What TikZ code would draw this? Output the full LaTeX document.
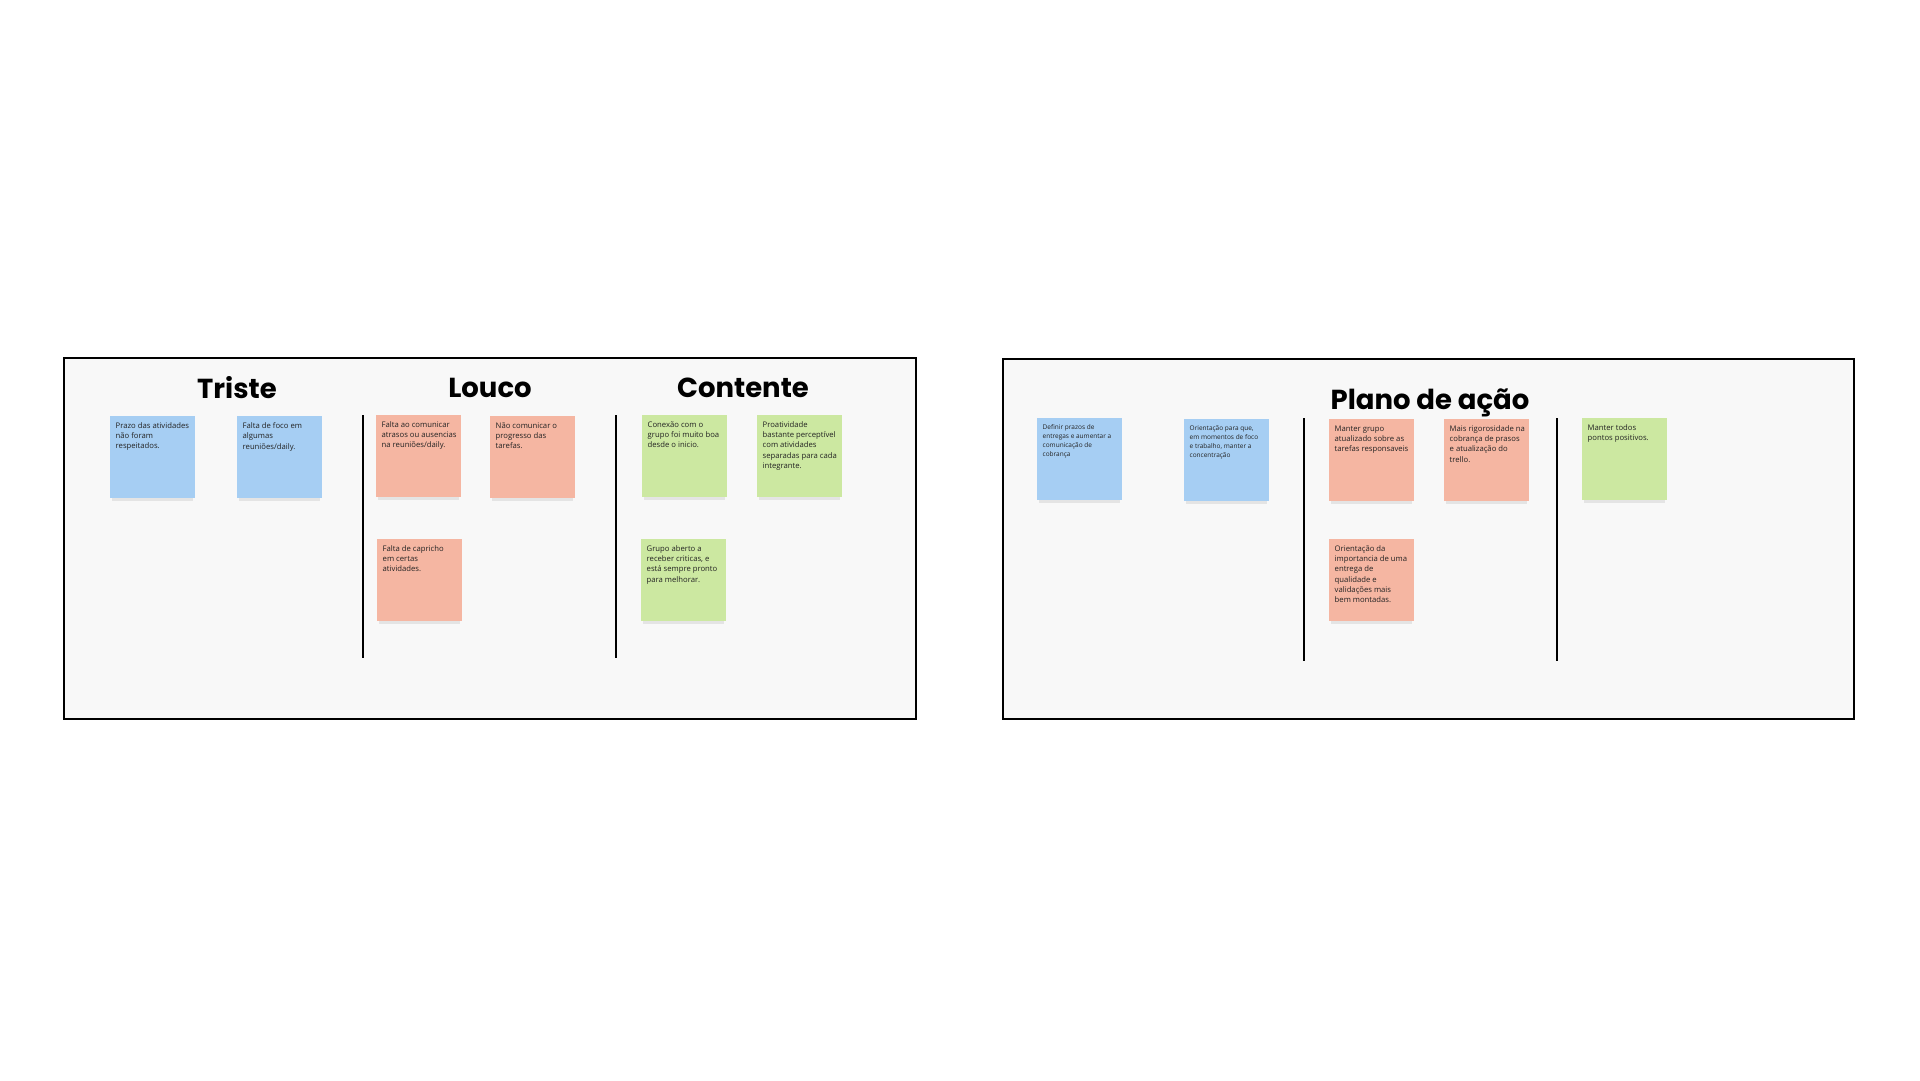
\documentclass[tikz,border=0pt]{standalone}
\usepackage{fontspec}
\setmainfont{Open Sans}
\newfontfamily\titlefont{Poppins}
\definecolor{stblue}{RGB}{166,206,243}
\definecolor{stred}{RGB}{245,182,162}
\definecolor{stgreen}{RGB}{204,232,161}
\definecolor{framebg}{RGB}{248,248,248}
\definecolor{sttext}{RGB}{35,35,35}
\definecolor{stshadow}{RGB}{228,228,228}
\tikzset{
  frame/.style={draw=black, line width=2.6pt, fill=framebg},
  divider/.style={draw=black, line width=2.6pt},
  title/.style={font=\titlefont\bfseries\fontsize{27.5}{30}\selectfont, text=black, inner sep=0pt},
  sticky/.style={draw=none, minimum width=85pt, minimum height=82pt, inner sep=0pt, anchor=north west},
  sttxt/.style={anchor=north west, align=left, inner xsep=5.5pt, inner ysep=6.5pt, text=sttext, font=\fontsize{7.7}{10.2}\selectfont},
  sttxtsmall/.style={sttxt, font=\fontsize{6.5}{9}\selectfont},
}
\begin{document}
\begin{tikzpicture}[x=1pt,y=-1pt]
\useasboundingbox[fill=white] (0,0) rectangle (1920,1080);
% frames
\draw[frame] (64,358) rectangle (916,719);
\draw[frame] (1003,359) rectangle (1854,719);
% dividers
\draw[divider] (363,415) -- (363,658);
\draw[divider] (616,415) -- (616,658);
\draw[divider] (1304,418) -- (1304,661);
\draw[divider] (1557,418) -- (1557,661);
% titles
\node[title] (tTriste) at (237,387.5) {Triste};
\node[title] (tLouco) at (490,388) {Louco};
\node[title] (tContente) at (743,388) {Contente};
\node[title] (tPlano) at (1430,402.5) {Plano de ação};
% sticky notes
\newcommand{\sticky}[6]{%
  \fill[stshadow] (#2+2,#3+82) rectangle (#2+83,#3+85);
  \node[sticky, fill=#4] (#1) at (#2,#3) {};
  \node[#5] (#1txt) at (#1.north west) {#6};
}
\sticky{s1}{110}{416}{stblue}{sttxt}{Prazo das atividades\\não foram\\respeitados.}
\sticky{s2}{237}{416}{stblue}{sttxt}{Falta de foco em\\algumas\\reuniões/daily.}
\sticky{s3}{376}{415}{stred}{sttxt}{Falta ao comunicar\\atrasos ou ausencias\\na reuniões/daily.}
\sticky{s4}{490}{416}{stred}{sttxt}{Não comunicar o\\progresso das\\tarefas.}
\sticky{s5}{377}{539}{stred}{sttxt}{Falta de capricho\\em certas\\atividades.}
\sticky{s6}{642}{415}{stgreen}{sttxt}{Conexão com o\\grupo foi muito boa\\desde o inicio.}
\sticky{s7}{757}{415}{stgreen}{sttxt}{Proatividade\\bastante perceptível\\com atividades\\separadas para cada\\integrante.}
\sticky{s8}{641}{539}{stgreen}{sttxt}{Grupo aberto a\\receber criticas, e\\está sempre pronto\\para melhorar.}
\sticky{s9}{1037}{418}{stblue}{sttxtsmall}{Definir prazos de\\entregas e aumentar a\\comunicação de\\cobrança}
\sticky{s10}{1184}{419}{stblue}{sttxtsmall}{Orientação para que,\\em momentos de foco\\e trabalho, manter a\\concentração}
\sticky{s11}{1329}{419}{stred}{sttxt}{Manter grupo\\atualizado sobre as\\tarefas responsaveis}
\sticky{s12}{1444}{419}{stred}{sttxt}{Mais rigorosidade na\\cobrança de prasos\\e atualização do\\trello.}
\sticky{s13}{1582}{418}{stgreen}{sttxt}{Manter todos\\pontos positivos.}
\sticky{s14}{1329}{539}{stred}{sttxt}{Orientação da\\importancia de uma\\entrega de\\qualidade e\\validações mais\\bem montadas.}
\end{tikzpicture}
\end{document}
